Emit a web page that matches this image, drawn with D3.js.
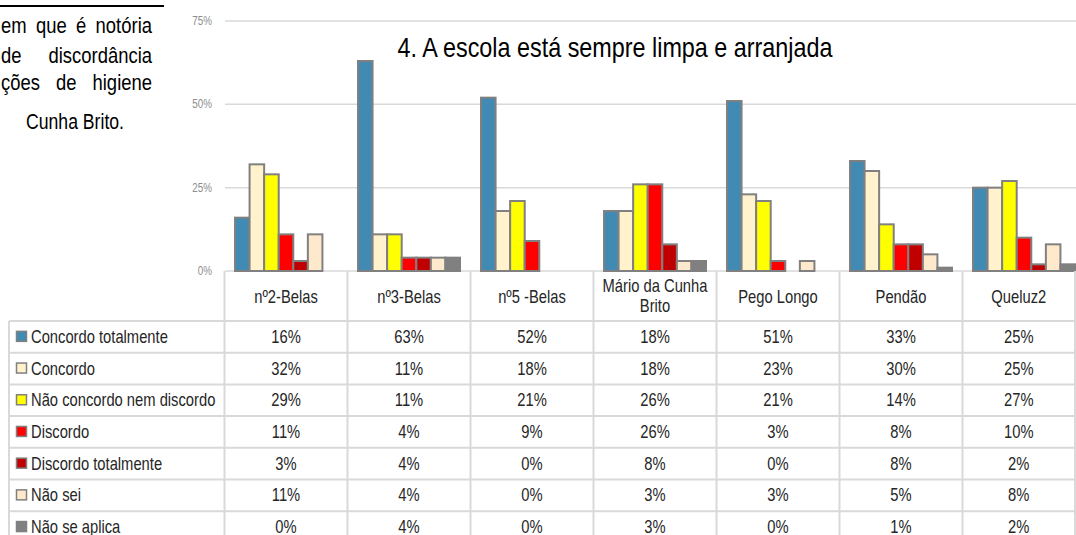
<!DOCTYPE html>
<html>
<head>
<meta charset="utf-8">
<script src="https://cdn.jsdelivr.net/npm/d3@7"></script>
<style>
	body { margin: 0; background: #fff; }
	text { white-space: pre; }
</style>
</head>
<body>
<script>
const escolas = ["nº2-Belas", "nº3-Belas", "nº5 -Belas", "Mário da Cunha Brito", "Pego Longo", "Pendão", "Queluz2"];
const respostas = ["Concordo totalmente", "Concordo", "Não concordo nem discordo", "Discordo", "Discordo totalmente", "Não sei", "Não se aplica"];

const concordoTotal = [16, 63, 52, 18, 51, 33, 25];
const concordo = [32, 11, 18, 18, 23, 30, 25];
const nemNem = [29, 11, 21, 26, 21, 14, 27];
const discordo = [11, 4, 9, 26, 3, 8, 10];
const discordoTotal = [3, 4, 0, 8, 0, 8, 2];
const naoSei = [11, 4, 0, 3, 3, 5, 8];
const naoAplica = [0, 4, 0, 3, 0, 1, 2];

const yTicks = [0, 25, 50, 75];

const series = [concordoTotal, concordo, nemNem, discordo, discordoTotal, naoSei, naoAplica];
const cores = ["#418ab3", "#fff2cc", "#ffff00", "#ff0000", "#c00000", "#ffe9cc", "#808080"];

const largeur = 1076;
const hauteur = 535;
const etroit = 0.82; // pour imiter Arial Narrow

const svg = d3.select("body").append("svg")
	.attr("width", largeur)
	.attr("height", hauteur)
	.style("font-family", "'Liberation Sans', Arial, sans-serif");

// texte etroit
const texte = (x, y, t, taille, ancre, couleur) =>
	svg.append("text")
		.attr("transform", `translate(${x},${y}) scale(${etroit},1)`)
		.attr("text-anchor", ancre)
		.style("font-size", taille + "px")
		.attr("fill", couleur)
		.text(t);

// bout de texte du document a gauche
svg.append("line")
	.attr("x1", 0).attr("x2", 164)
	.attr("y1", 6).attr("y2", 6)
	.attr("stroke", "#000").attr("stroke-width", 2);

const justifie = (t, y) => {
	const el = texte(1, y, t, 22.5, "start", "#000");
	const n = t.split(" ").length - 1;
	const natural = el.node().getComputedTextLength();
	el.style("word-spacing", (151 / etroit - natural) / n + "px");
};
justifie("em que é notória", 33);
texte(1, 63, "de", 22.5, "start", "#000");
texte(152, 63, "discordância", 22.5, "end", "#000");
justifie("ções de higiene", 90);
texte(26, 129, "Cunha Brito.", 21.5, "start", "#000");

// echelles
const x0 = d3.scaleBand().domain(escolas).range([224.5, 224.5 + 123 * escolas.length]);
const x1 = d3.scaleBand().domain(respostas).range([10.5, 112.5]);
const y = d3.scaleLinear().domain([0, 75]).range([271, 21]);

// grille
svg.selectAll(".grille").data(yTicks).enter().append("line")
	.attr("class", "grille")
	.attr("x1", 225).attr("x2", largeur)
	.attr("y1", d => y(d)).attr("y2", d => y(d))
	.attr("stroke", "#d9d9d9").attr("stroke-width", 1.5);

yTicks.forEach(d => texte(212, y(d) + 4, d + "%", 12, "end", "#8c8c8c"));

// titre
texte(615, 57, "4. A escola está sempre limpa e arranjada", 28.5, "middle", "#000");

// barres
const groupes = svg.selectAll(".groupe").data(escolas).enter().append("g")
	.attr("class", "groupe")
	.attr("transform", d => `translate(${x0(d)},0)`);

groupes.selectAll("rect")
	.data((e, i) => respostas.map((r, j) => ({ r: r, v: series[j][i], c: cores[j] })).filter(d => d.v > 0))
	.enter().append("rect")
	.attr("x", d => x1(d.r))
	.attr("width", x1.bandwidth())
	.attr("y", d => y(d.v))
	.attr("height", d => y(0) - y(d.v))
	.attr("fill", d => d.c)
	.attr("stroke", "#808080")
	.attr("stroke-width", 2);

// tableau
const haut = 271, basEntete = 321, hLigne = 31.7;
const droite = 1075;
const lignes = respostas.map((r, j) => basEntete + hLigne * j);
const cl = "#d9d9d9";

// lignes horizontales
svg.selectAll(".hl").data(lignes.concat([basEntete + hLigne * respostas.length])).enter().append("line")
	.attr("class", "hl")
	.attr("x1", 9).attr("x2", droite)
	.attr("y1", d => d).attr("y2", d => d)
	.attr("stroke", cl).attr("stroke-width", 2);

// lignes verticales
const bords = escolas.map(e => x0(e)).concat([droite]);
svg.selectAll(".vl").data(bords).enter().append("line")
	.attr("class", "vl")
	.attr("x1", d => d).attr("x2", d => d)
	.attr("y1", haut).attr("y2", hauteur)
	.attr("stroke", cl).attr("stroke-width", 2);
svg.append("line")
	.attr("x1", 9).attr("x2", 9)
	.attr("y1", basEntete).attr("y2", hauteur)
	.attr("stroke", cl).attr("stroke-width", 2);

// entetes
const centre = e => {
	const a = x0(e), b = Math.min(a + 123, droite);
	return (a + b) / 2;
};
escolas.forEach(e => {
	if (e == "Mário da Cunha Brito") {
		texte(centre(e), 292, "Mário da Cunha", 18, "middle", "#262626");
		texte(centre(e), 312, "Brito", 18, "middle", "#262626");
	} else {
		texte(centre(e), 303, e, 18, "middle", "#262626");
	}
});

// legende et valeurs
respostas.forEach((r, j) => {
	const cy = lignes[j] + hLigne / 2;
	svg.append("rect")
		.attr("x", 16.5).attr("y", cy - 5.5)
		.attr("width", 10).attr("height", 10)
		.attr("fill", cores[j])
		.attr("stroke", "#808080").attr("stroke-width", 1.5);
	texte(31, cy + 6, r, 18, "start", "#262626");
	escolas.forEach((e, i) => {
		texte(centre(e), cy + 6, series[j][i] + "%", 18, "middle", "#262626");
	});
});
</script>
</body>
</html>
